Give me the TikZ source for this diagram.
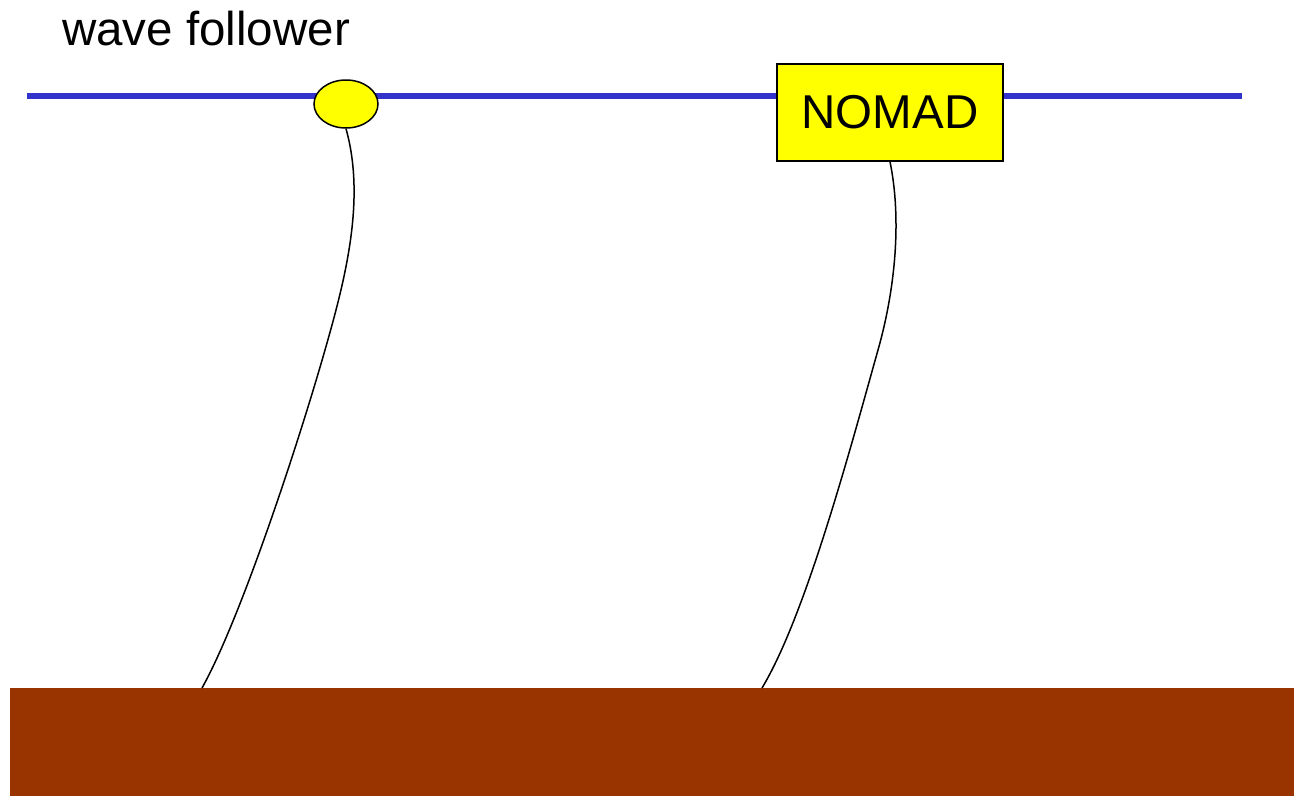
\documentclass[tikz,border=0pt]{standalone}
\usepackage{fontspec}
\setmainfont{Liberation Sans}
\usetikzlibrary{shapes.geometric}
\definecolor{sea}{HTML}{3333CC}
\definecolor{ground}{HTML}{993300}
\definecolor{buoy}{HTML}{FFFF00}
\tikzset{
  surface/.style={draw=sea, line width=6pt},
  mooring/.style={draw=black, line width=1.5pt},
  floatbody/.style={draw=black, fill=buoy, line width=1.5pt},
  bigtext/.style={font=\fontsize{47.5}{57}\selectfont},
}
\begin{document}
\begin{tikzpicture}[x=1pt,y=-1pt]
\useasboundingbox (0,0) rectangle (1294,796);
\fill[white] (0,0) rectangle (1294,796);
% sea floor
\fill[ground] (9.5,687.5) rectangle (1294,796);
\coordinate (g1) at (202,688);
\coordinate (g2) at (762,688);
\coordinate (m1) at (325,350);
\coordinate (m2) at (878,350);
% sea surface
\draw[surface] (27,96) -- (1242,96);
% label
\node[bigtext, anchor=base west, inner sep=0pt] (lbl) at (62,45) {wave follower};
% floats
\node[floatbody, ellipse, minimum width=64pt, minimum height=48pt, inner sep=0pt] (wf) at (346,104) {};
\node[floatbody, rectangle, minimum width=226pt, minimum height=97pt, inner sep=0pt, bigtext] (nomad) at (890,112.5) {NOMAD};
% moorings
\draw[mooring] (wf.south) .. controls (366,200) and (345,280) .. (m1)
  .. controls (297,448) and (240,620) .. (g1);
\draw[mooring] (nomad.south) .. controls (902,220) and (895,290) .. (m2)
  .. controls (851,446) and (806,615) .. (g2);
\end{tikzpicture}
\end{document}
